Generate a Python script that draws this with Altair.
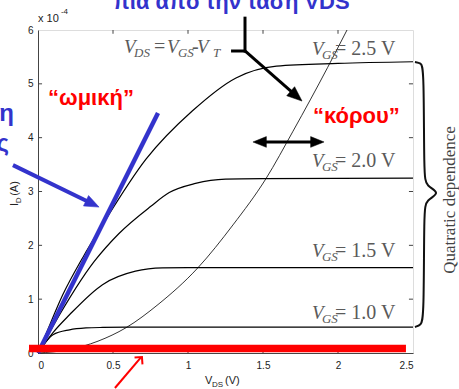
import altair as alt
import pandas as pd

# ---------------- data (x = V_DS in V, y = I_D in units of 1e-4 A) ----------------
vds_25 = [0, 0.05, 0.165, 0.30, 0.43, 0.72, 1.03, 1.32, 1.59, 2.0, 2.5]
id_25 = [0, 0.33, 1.08, 1.78, 2.38, 3.60, 4.50, 5.11, 5.33, 5.38, 5.41]
vds_20 = [0, 0.10, 0.375, 0.54, 0.75, 0.875, 1.05, 1.25, 1.5, 2.5]
id_20 = [0, 0.50, 1.70, 2.22, 2.72, 2.98, 3.15, 3.23, 3.24, 3.25]
vds_15 = [0, 0.10, 0.21, 0.43, 0.65, 0.83, 1.0, 2.5]
id_15 = [0, 0.38, 0.71, 1.27, 1.52, 1.58, 1.585, 1.585]
vds_10 = [0, 0.05, 0.10, 0.21, 0.32, 0.43, 0.6, 2.5]
id_10 = [0, 0.20, 0.34, 0.43, 0.465, 0.475, 0.48, 0.48]
# boundary V_DS = V_GS - V_T
vds_sat = [0, 0.2, 0.4, 0.587, 0.8, 1.065, 1.3, 1.52, 1.70, 1.93, 2.06]
id_sat = [0, 0.06, 0.22, 0.47, 0.9, 1.58, 2.38, 3.24, 4.12, 5.3, 6.0]

x_ticks = [0, 0.5, 1, 1.5, 2, 2.5]
y_ticks = [0, 1, 2, 3, 4, 5, 6]
inner_x_ticks = [0.5, 1, 1.5, 2]
inner_y_ticks = [1, 2, 3, 4, 5]

# gray serif labels (pieces)
it_t = ["V", "V", "V", "V", "V", "V", "V"]
it_x = [0.573, 0.86, 1.06, 1.827, 1.827, 1.827, 1.827]
it_y = [5.573, 5.573, 5.573, 5.536, 3.455, 1.783, 0.632]
sub_t = ["DS", "GS", "T", "GS", "GS", "GS", "GS"]
sub_x = [0.64, 0.933, 1.167, 1.893, 1.893, 1.893, 1.893]
sub_y = [5.499, 5.499, 5.499, 5.462, 3.381, 1.709, 0.557]
rg_t = ["=", "-", "= 2.5 V", "= 2.0 V", "= 1.5 V", "= 1.0 V"]
rg_x = [0.773, 1.027, 1.98, 1.98, 1.98, 1.98]
rg_y = [5.573, 5.573, 5.536, 3.455, 1.783, 0.632]

# brace on the right
brace_x = [2.513, 2.553, 2.573, 2.573, 2.587, 2.687, 2.587, 2.573, 2.573, 2.553, 2.513]
brace_y = [5.406, 5.387, 5.294, 3.288, 3.102, 2.972, 2.842, 2.656, 0.650, 0.520, 0.483]

# ---------------- scales / axes ----------------
XS = alt.Scale(domain=[0, 2.5], nice=False, zero=False)
YS = alt.Scale(domain=[0, 6], nice=False, zero=False)
axis_common = dict(labelFont="Liberation Sans", labelFontSize=10, labelColor="#222",
                   domainColor="#444", domainWidth=1, ticks=False, grid=False, title=None)
AX = alt.Axis(values=x_ticks, format="~g", labelPadding=7, **axis_common)
AY = alt.Axis(values=y_ticks, format="~g", labelPadding=5, **axis_common)


def X(f="x"):
    return alt.X(f, type="quantitative", scale=XS, axis=AX)


def Y(f="y"):
    return alt.Y(f, type="quantitative", scale=YS, axis=AY)


def curve(xs, ys, width=1.2):
    df = pd.DataFrame({"x": xs, "y": ys})
    return alt.Chart(df).mark_line(color="black", strokeWidth=width, interpolate="monotone").encode(
        x=X(), y=Y())


def seg(x1, y1, x2, y2, color, width, cap="butt"):
    df = pd.DataFrame({"x": [x1], "y": [y1], "x2": [x2], "y2": [y2]})
    return alt.Chart(df).mark_rule(color=color, strokeWidth=width, strokeCap=cap).encode(
        x=X(), y=Y(), x2="x2", y2="y2")


def head(x, y, angle, color, size=196, filled=True, path="M0,0L-2,-0.8L-2,0.8Z", sw=1):
    df = pd.DataFrame({"x": [x], "y": [y]})
    kw = dict(shape=path, size=size, angle=angle, opacity=1)
    if filled:
        kw.update(filled=True, fill=color, stroke=color, strokeWidth=0.5)
    else:
        kw.update(filled=False, stroke=color, strokeWidth=sw)
    return alt.Chart(df).mark_point(**kw).encode(x=X(), y=Y())


def txt(ts, xs, ys, size, color, font, style="normal", weight="normal", align="left", angle=0,
        baseline="alphabetic"):
    df = pd.DataFrame({"x": xs, "y": ys, "t": ts})
    return alt.Chart(df).mark_text(fontSize=size, color=color, font=font, fontStyle=style,
                                   fontWeight=weight, align=align, angle=angle,
                                   baseline=baseline).encode(x=X(), y=Y(), text="t")


layers = [curve(vds_25, id_25), curve(vds_20, id_20), curve(vds_15, id_15), curve(vds_10, id_10),
          curve(vds_sat, id_sat, 0.8)]

# inward ticks
tk_x = pd.DataFrame({"x": inner_x_ticks, "lo": [0] * 4, "lo2": [0.07] * 4, "hi": [6] * 4, "hi2": [5.93] * 4})
layers.append(alt.Chart(tk_x).mark_rule(color="#444").encode(x=X(), y=Y("lo"), y2="lo2"))
layers.append(alt.Chart(tk_x).mark_rule(color="#444").encode(x=X(), y=Y("hi"), y2="hi2"))
tk_y = pd.DataFrame({"y": inner_y_ticks, "l": [0] * 5, "l2": [0.027] * 5, "r": [2.5] * 5, "r2": [2.473] * 5})
layers.append(alt.Chart(tk_y).mark_rule(color="#444").encode(y=Y(), x=X("l"), x2="l2"))
layers.append(alt.Chart(tk_y).mark_rule(color="#444").encode(y=Y(), x=X("r"), x2="r2"))

BLUE = "#3333CC"
# blue "ohmic" line and blue arrow
layers.append(seg(0, 0, 0.8, 4.46, BLUE, 4.5))
layers.append(seg(-0.167, 3.49, 0.359, 2.777, BLUE, 4))
layers.append(head(0.407, 2.71, 26, BLUE, size=210))

# black pointer from the V_DS = V_GS - V_T label
layers.append(seg(1.38, 6.22, 1.38, 5.61, "black", 3, "square"))
layers.append(seg(1.287, 5.61, 1.38, 5.61, "black", 3))
layers.append(seg(1.38, 5.61, 1.72, 4.78, "black", 3))
layers.append(head(1.76, 4.68, 41, "black", size=225))

# double arrow
layers.append(seg(1.49, 3.92, 1.85, 3.92, "black", 3))
layers.append(head(1.433, 3.92, 180, "black", size=180))
layers.append(head(1.907, 3.92, 0, "black", size=180))

# brace
brace = pd.DataFrame({"x": brace_x, "y": brace_y, "o": list(range(len(brace_x)))})
layers.append(alt.Chart(brace).mark_line(color="#111", strokeWidth=2, interpolate="basis").encode(
    x=X(), y=Y(), order="o"))

# gray serif labels
GRAY = "#5a5a5a"
layers.append(txt(it_t, it_x, it_y, 19, GRAY, "Liberation Serif", style="italic"))
layers.append(txt(sub_t, sub_x, sub_y, 13, GRAY, "Liberation Serif", style="italic"))
layers.append(txt(rg_t, rg_x, rg_y, 20, GRAY, "Liberation Serif"))
layers.append(txt(["Quatratic dependence"], [2.747], [2.842], 17, "#444", "Liberation Serif",
                  align="center", angle=270, baseline="middle"))

# red annotations
RED = "#FF0000"
layers.append(seg(-0.06, 0.084, 2.453, 0.084, RED, 7.5))
layers.append(seg(0.513, -0.65, 0.685, -0.085, RED, 2))
layers.append(head(0.693, -0.074, 311, RED, size=110, filled=False, path="M-1,-1L0,0L-1,1", sw=2))
layers.append(txt(["\u201cωμική\u201d"], [0.067], [4.607], 22, RED, "Liberation Sans", weight="bold"))
layers.append(txt(["\u201cκόρου\u201d"], [1.833], [4.27], 22, RED, "Liberation Sans", weight="bold"))

# blue texts (partly outside the picture)
layers.append(txt(["πια από την τάση VDS"], [0.5], [6.39], 22, BLUE, "Liberation Sans", weight="bold"))
layers.append(txt(["σχέση", "τάσης"], [-0.16, -0.193], [4.31, 3.75], 24, BLUE,
                  "Liberation Sans", weight="bold", align="right"))

# axis titles and exponent
layers.append(txt(["x 10"], [0.0], [6.149], 11, "#222", "Liberation Sans"))
layers.append(txt(["-4"], [0.153], [6.298], 8, "#222", "Liberation Sans"))
layers.append(txt(["V", "(V)"], [1.113, 1.247], [-0.576, -0.576], 11, "#222", "Liberation Sans"))
layers.append(txt(["DS"], [1.16], [-0.632], 8, "#222", "Liberation Sans"))
layers.append(txt(["I", "(A)"], [-0.133, -0.133], [2.73, 2.92], 11, "#222", "Liberation Sans", angle=270))
layers.append(txt(["D"], [-0.113], [2.78], 8, "#222", "Liberation Sans", angle=270))

chart = alt.layer(*layers).properties(
    width=375, height=323,
    autosize=alt.AutoSizeParams(type="none"),
    padding={"left": 38, "top": 30, "right": 46, "bottom": 36},
).configure_view(stroke="#444", strokeWidth=1).configure(background="white")

chart.save("out.html", embed_options={"renderer": "svg", "actions": False})
